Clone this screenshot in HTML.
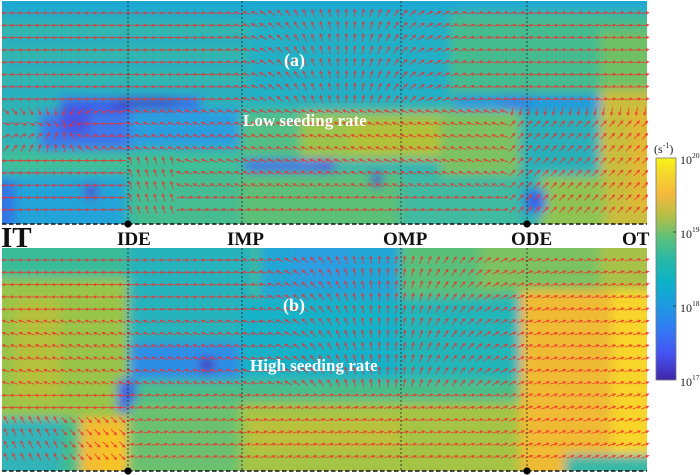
<!DOCTYPE html>
<html><head><meta charset="utf-8"><style>
html,body{margin:0;padding:0;background:#fff;}
svg{display:block;}
text{font-family:"Liberation Serif",serif;}
</style></head><body>
<svg width="700" height="475" viewBox="0 0 700 475" xmlns="http://www.w3.org/2000/svg">
<defs>
<clipPath id="ca"><rect x="2" y="1" width="645" height="223"/></clipPath>
<clipPath id="cb"><rect x="2" y="248" width="645" height="223"/></clipPath>
<filter id="bl" x="-10%" y="-10%" width="120%" height="120%"><feGaussianBlur stdDeviation="5"/></filter>
<linearGradient id="par" x1="0" y1="1" x2="0" y2="0">
<stop offset="0" stop-color="#3e26a8"/>
<stop offset="0.12" stop-color="#4653f2"/>
<stop offset="0.24" stop-color="#2f7ff2"/>
<stop offset="0.34" stop-color="#1c9be0"/>
<stop offset="0.44" stop-color="#0db2c8"/>
<stop offset="0.54" stop-color="#26b8a6"/>
<stop offset="0.64" stop-color="#5cc07a"/>
<stop offset="0.74" stop-color="#b5bf45"/>
<stop offset="0.84" stop-color="#f5b93c"/>
<stop offset="0.92" stop-color="#f5d32e"/>
<stop offset="1" stop-color="#f8f418"/>
</linearGradient>
</defs>

<!-- Panel (a) colour field -->
<g clip-path="url(#ca)"><g filter="url(#bl)">
<rect x="-20" y="-20" width="690" height="260" fill="#2fb4b3"/>
<rect x="-20" y="-20" width="690" height="32" fill="#1ea7d2"/>
<rect x="0" y="12" width="250" height="86" fill="#27aec2"/>
<rect x="0" y="24" width="250" height="12" fill="#36b8a8"/>
<rect x="0" y="48" width="250" height="12" fill="#36b8a8"/>
<rect x="0" y="72" width="250" height="12" fill="#36b8a8"/>
<rect x="250" y="12" width="200" height="90" fill="#22b0c6"/>
<rect x="450" y="12" width="220" height="85" fill="#44bc90"/>
<rect x="600" y="30" width="70" height="70" fill="#70c066"/>
<rect x="0" y="112" width="40" height="38" fill="#30b4b6"/>
<rect x="60" y="98" width="140" height="14" fill="#3d5de8"/>
<rect x="115" y="98" width="60" height="12" fill="#4238c8"/>
<rect x="40" y="112" width="95" height="38" fill="#3c78ea"/>
<rect x="60" y="112" width="30" height="22" fill="#4a52e2"/>
<rect x="130" y="108" width="110" height="40" fill="#2a9fe0"/>
<rect x="0" y="150" width="240" height="25" fill="#3fbe98"/>
<rect x="-10" y="175" width="135" height="60" fill="#23a4d8"/>
<rect x="-10" y="180" width="25" height="50" fill="#3276e6"/>
<rect x="85" y="185" width="12" height="14" fill="#4a40d0"/>
<rect x="130" y="175" width="110" height="60" fill="#45bc92"/>
<rect x="240" y="112" width="60" height="48" fill="#52bf86"/>
<rect x="300" y="112" width="150" height="48" fill="#9ac44c"/>
<rect x="350" y="122" width="100" height="30" fill="#b2c238"/>
<rect x="440" y="110" width="90" height="65" fill="#7cc264"/>
<rect x="245" y="160" width="90" height="12" fill="#3f6be8"/>
<rect x="320" y="160" width="12" height="12" fill="#4a4ee0"/>
<rect x="240" y="172" width="160" height="60" fill="#5cc078"/>
<rect x="372" y="173" width="10" height="14" fill="#5040c8"/>
<rect x="400" y="175" width="120" height="60" fill="#3fbaa0"/>
<rect x="455" y="95" width="150" height="15" fill="#2398e0"/>
<rect x="500" y="97" width="30" height="12" fill="#3380e8"/>
<rect x="520" y="110" width="85" height="65" fill="#29b0b8"/>
<rect x="600" y="90" width="70" height="145" fill="#c8bd3c"/>
<rect x="630" y="110" width="40" height="100" fill="#e0b935"/>
<rect x="540" y="175" width="65" height="60" fill="#8fc455"/>
<rect x="525" y="190" width="20" height="22" fill="#3860e8"/>
</g></g>

<!-- Panel (b) colour field -->
<g clip-path="url(#cb)"><g filter="url(#bl)">
<rect x="-20" y="235" width="690" height="260" fill="#45bd8a"/>
<rect x="-10" y="240" width="138" height="38" fill="#3bbc98"/>
<rect x="-10" y="278" width="138" height="140" fill="#98c44a"/>
<rect x="15" y="300" width="45" height="100" fill="#b4c13e"/>
<rect x="128" y="240" width="125" height="103" fill="#27b3bc"/>
<rect x="250" y="298" width="280" height="82" fill="#22b6b8"/>
<rect x="240" y="300" width="160" height="80" fill="#18b2c8"/>
<rect x="130" y="343" width="110" height="37" fill="#2f8ee6"/>
<rect x="200" y="358" width="14" height="14" fill="#4432c0"/>
<rect x="118" y="380" width="18" height="32" fill="#3a62e4"/>
<rect x="260" y="240" width="140" height="58" fill="#22a6d6"/>
<rect x="293" y="240" width="57" height="45" fill="#2a9ee0"/>
<rect x="400" y="240" width="100" height="58" fill="#58c07a"/>
<rect x="136" y="380" width="400" height="22" fill="#4cbe88"/>
<rect x="130" y="402" width="110" height="80" fill="#6cc170"/>
<rect x="240" y="402" width="280" height="80" fill="#a5c444"/>
<rect x="250" y="420" width="150" height="30" fill="#bcc13c"/>
<rect x="-10" y="418" width="72" height="62" fill="#30b4b8"/>
<rect x="80" y="418" width="48" height="60" fill="#f2bc30"/>
<rect x="100" y="430" width="28" height="48" fill="#f6c428"/>
<rect x="480" y="240" width="190" height="50" fill="#7cc262"/>
<rect x="600" y="240" width="70" height="50" fill="#a8c24a"/>
<rect x="520" y="290" width="150" height="190" fill="#efbb34"/>
<rect x="612" y="290" width="60" height="165" fill="#f7d52a"/>
<rect x="565" y="455" width="110" height="25" fill="#38b8a8"/>
</g></g>

<!-- arrows -->
<path id="arr" d="" fill="none" stroke="#f42a2a" stroke-width="0.85" stroke-linecap="round" opacity="0.85"/>

<!-- vertical dotted lines -->
<g stroke="#222" stroke-width="0.8" stroke-dasharray="2 2">
<line x1="128" y1="1" x2="128" y2="224"/><line x1="242" y1="1" x2="242" y2="224"/>
<line x1="401" y1="1" x2="401" y2="224"/><line x1="527" y1="1" x2="527" y2="224"/>
<line x1="128" y1="248" x2="128" y2="471"/><line x1="242" y1="248" x2="242" y2="471"/>
<line x1="401" y1="248" x2="401" y2="471"/><line x1="527" y1="248" x2="527" y2="471"/>
</g>
<!-- dashed baselines -->
<g stroke="#111" stroke-width="1.4" stroke-dasharray="4.5 2.5">
<line x1="2" y1="224" x2="647" y2="224"/>
<line x1="2" y1="471" x2="647" y2="471"/>
</g>
<g fill="#000">
<circle cx="128" cy="224" r="3.6"/><circle cx="527" cy="224" r="3.6"/>
<circle cx="128" cy="471" r="3.6"/><circle cx="527" cy="471" r="3.6"/>
</g>

<!-- position labels -->
<g font-weight="bold" fill="#111">
<text x="1" y="247" font-size="29">IT</text>
<text x="117" y="245" font-size="19">IDE</text>
<text x="227" y="245" font-size="19">IMP</text>
<text x="383" y="245" font-size="19">OMP</text>
<text x="511" y="245" font-size="19">ODE</text>
<text x="622" y="245" font-size="19">OT</text>
</g>

<!-- panel labels -->
<g font-weight="bold" fill="#fff">
<text x="284" y="66" font-size="18">(a)</text>
<text x="243" y="126" font-size="17">Low seeding rate</text>
<text x="283" y="311" font-size="18">(b)</text>
<text x="250" y="371" font-size="17">High seeding rate</text>
</g>

<!-- colorbar -->
<rect x="656" y="158" width="20" height="222" fill="url(#par)" stroke="#777" stroke-width="0.8"/>
<g stroke="#333" stroke-width="0.8">
<line x1="673" y1="232" x2="676" y2="232"/><line x1="673" y1="306" x2="676" y2="306"/>
</g>
<g fill="#222" font-size="12">
<text x="680" y="164">10<tspan font-size="7.5" dy="-6">20</tspan></text>
<text x="680" y="238">10<tspan font-size="7.5" dy="-6">19</tspan></text>
<text x="680" y="312">10<tspan font-size="7.5" dy="-6">18</tspan></text>
<text x="680" y="386">10<tspan font-size="7.5" dy="-6">17</tspan></text>
<text x="654" y="153" font-size="12">(s<tspan font-size="8" dy="-5">-1</tspan><tspan dy="5">)</tspan></text>
</g>
</svg>
<script>
(function(){
var out=[];
function add(x,y,dx,dy){
 var m=Math.sqrt(dx*dx+dy*dy)||1; dx/=m; dy/=m;
 var L=7.4;
 var x1=x-dx*L/2,y1=y-dy*L/2,x2=x+dx*L/2,y2=y+dy*L/2;
 var h=2.6,c=Math.cos(0.45),s=Math.sin(0.45);
 var bx=-dx,by=-dy;
 var hx1=x2+h*(bx*c-by*s),hy1=y2+h*(bx*s+by*c);
 var hx2=x2+h*(bx*c+by*s),hy2=y2+h*(-bx*s+by*c);
 out.push('M'+x1.toFixed(1)+' '+y1.toFixed(1)+'L'+x2.toFixed(1)+' '+y2.toFixed(1)+'M'+hx1.toFixed(1)+' '+hy1.toFixed(1)+'L'+x2.toFixed(1)+' '+y2.toFixed(1)+'L'+hx2.toFixed(1)+' '+hy2.toFixed(1));
}
function fa(x,y){
 var dx,dy;
 if(y<100){
  var s=Math.tanh((x-345)/55);
  var up=Math.exp(-Math.pow((x-345)/75,2))*1.6;
  dx=s;dy=-up;if(x>430)dy-=0.12;
 } else if(x<128){
  if(y<152){dx=70-x;dy=128-y;var m=Math.sqrt(dx*dx+dy*dy)||1;dx=dx/m*0.8-0.5;dy=dy/m;}
  else{dx=-1;dy=0.05;}
 } else if(x<175&&y>150){dx=-0.3;dy=-1;}
 else if(x<505){dx=-1;dy=-0.35;if(y>192){dx=1;dy=-0.15;}}
 else {dx=0.8;dy=-0.8;if(y<115){dx=-0.2;dy=1;}}
 return [dx,dy];
}
function fb(x,y){
 var ly=y-248,dx,dy;
 if(ly<140){
  var s=Math.tanh((x-385)/60);
  var up=Math.exp(-Math.pow((x-385)/85,2))*1.8;
  dx=s;dy=-up;if(x>450)dy-=0.25;
  if(x<250&&ly>70){dx=-1;dy=-0.3;}
 } else if(x<128){
  if(ly>160){ if(x<60){dx=-0.5;dy=-1;}else{dx=0.7;dy=0.7;} }
  else{dx=-1;dy=0;}
 } else {dx=1;dy=-0.2;if(x>500)dy=-0.35;}
 return [dx,dy];
}
var x,y,k,v;
for(k=0;k<18;k++){
 y=13+k*12.3; if(y>221)break;
 for(x=6;x<646;x+=8.3){v=fa(x,y);add(x,y,v[0],v[1]);}
}
for(k=0;k<18;k++){
 y=260+k*12.3; if(y>468)break;
 for(x=6;x<646;x+=8.3){v=fb(x,y);add(x,y,v[0],v[1]);}
}
document.getElementById('arr').setAttribute('d',out.join(''));
})();
</script>
</body></html>
